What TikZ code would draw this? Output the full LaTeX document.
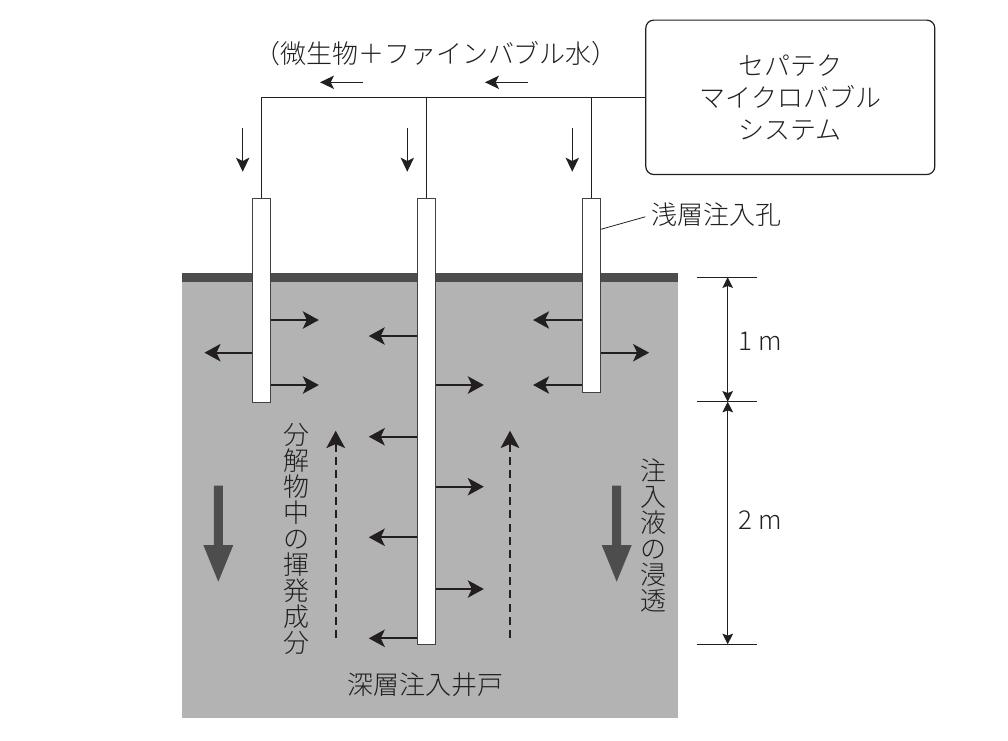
\documentclass[tikz,border=0pt]{standalone}
\usepackage{fontspec}
\setmainfont{Noto Sans CJK JP}[UprightFont={* Light}]
\usetikzlibrary{arrows.meta}
\definecolor{ink}{HTML}{231F20}
\definecolor{soil}{HTML}{B3B3B3}
\definecolor{band}{HTML}{4D4D4D}
\begin{document}
\begin{tikzpicture}[x=0.75pt,y=-0.75pt,
  txt/.style={text=ink, font=\fontsize{19.5}{19.5}\selectfont, inner sep=0pt},
  pipe/.style={draw=ink!85, line width=0.8pt, fill=white, minimum width=13.5pt, inner sep=0pt, anchor=north},
  feed/.style={draw=ink, line width=0.8pt},
  flow/.style={draw=ink, line width=1.7pt, -{Stealth[length=12pt,width=13pt,inset=3pt]}},
  small/.style={draw=ink, line width=0.8pt, -{Stealth[length=10.5pt,width=10pt,inset=2.5pt]}},
  upflow/.style={draw=ink, line width=1.5pt, dash pattern=on 6pt off 4pt, -{Stealth[length=13pt,width=14pt,inset=3pt]}},
  dimarr/.style={draw=ink, line width=0.8pt, {Stealth[length=8pt,width=8pt,inset=1.5pt]}-{Stealth[length=8pt,width=8pt,inset=1.5pt]}}
]
\useasboundingbox (0,0) rectangle (1008,740);
% ground
\fill[soil] (182,273.3) rectangle (678,718);
\fill[band] (182,273.3) rectangle (678,281.7);
% pipes
\node[pipe, minimum height=153pt] (lp) at (261.7,197.7) {};
\node[pipe, minimum height=335pt] (mp) at (426.3,197.7) {};
\node[pipe, minimum height=145.5pt] (rp) at (591.3,198.3) {};
% system box
\node[draw=ink, line width=0.9pt, rounded corners=6pt, minimum width=216.75pt, minimum height=115.8pt,
      align=center, font=\fontsize{19.5}{24}\selectfont, text=ink] (sys) at (790.3,97.3)
      {セパテク\\マイクロバブル\\システム};
% feed lines
\draw[feed] (sys.west) -- (lp.north |- sys.west) -- (lp.north);
\draw[feed] (mp.north |- sys.west) -- (mp.north);
\draw[feed] (rp.north |- sys.west) -- (rp.north);
% top label and flow arrows
\node[txt] (lbl) at (436,54) {（微生物＋ファインバブル水）};
\draw[small] (363,82.3) -- (320,82.3);
\draw[small] (528,82.3) -- (485,82.3);
\draw[small] (242.7,128.3) -- (242.7,171.7);
\draw[small] (407.3,128.3) -- (407.3,171.7);
\draw[small] (572.3,128.3) -- (572.3,171.7);
% shallow label
\node[txt, anchor=west] (sh) at (651.7,215) {浅層注入孔};
\draw[feed, line width=0.6pt, shorten >=5pt] (rp.east |- 0,229.3) -- (sh.west);
% lateral flow arrows
\draw[flow] (lp.east |- 0,320) -- +(47.6,0);
\draw[flow] (lp.east |- 0,385) -- +(47.6,0);
\draw[flow] (lp.west |- 0,352.7) -- +(-47.7,0);
\draw[flow] (mp.west |- 0,336) -- +(-48,0);
\draw[flow] (mp.west |- 0,436.7) -- +(-48,0);
\draw[flow] (mp.west |- 0,537.3) -- +(-48,0);
\draw[flow] (mp.west |- 0,638.3) -- +(-48,0);
\draw[flow] (mp.east |- 0,385) -- +(48,0);
\draw[flow] (mp.east |- 0,486.7) -- +(48,0);
\draw[flow] (mp.east |- 0,589) -- +(48,0);
\draw[flow] (rp.west |- 0,320) -- +(-48.7,0);
\draw[flow] (rp.west |- 0,385) -- +(-48.7,0);
\draw[flow] (rp.east |- 0,352.7) -- +(48.3,0);
% rising volatiles
\draw[upflow] (335.7,638.3) -- (335.7,430.7);
\draw[upflow] (510,638.3) -- (510,430.7);
% big infiltration arrows
\fill[band] (213.8,485.7) -- (222.8,485.7) -- (222.8,545) -- (233.3,545) -- (218.3,581.7) -- (203.3,545) -- (213.8,545) -- cycle;
\fill[band] (612.2,485.7) -- (621.2,485.7) -- (621.2,545) -- (631.7,545) -- (616.7,581.7) -- (601.7,545) -- (612.2,545) -- cycle;
% vertical texts
\node[txt, align=center] (v1) at (296.7,539.2) {分\\解\\物\\中\\の\\揮\\発\\成\\分};
\node[txt, align=center] (v2) at (653.3,535) {注\\入\\液\\の\\浸\\透};
\node[txt] (deep) at (425.7,685) {深層注入井戸};
% dimensions
\coordinate (d0) at (727.7,277.3);
\coordinate (d1) at (727.7,401.7);
\coordinate (d2) at (727.7,644.3);
\draw[feed] (696.7,277.3) -- (757.3,277.3);
\draw[feed] (696.7,401.7) -- (757.3,401.7);
\draw[feed] (696.7,644.3) -- (757.3,644.3);
\draw[dimarr] (d0) -- (d1);
\draw[dimarr] (d1) -- (d2);
\node[txt] (m1) at (760,341.7) {1 m};
\node[txt] (m2) at (760,520) {2 m};
\end{tikzpicture}
\end{document}
